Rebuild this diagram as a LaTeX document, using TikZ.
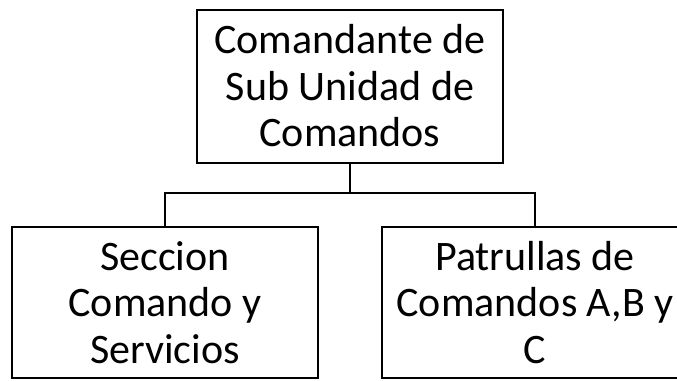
\documentclass[tikz,border=0pt]{standalone}
\usepackage{fontspec}
\setmainfont{Carlito}
\begin{document}
\begin{tikzpicture}[x=1pt,y=-1pt,
  orgbox/.style={draw=black, line width=2pt, minimum width=306pt, align=center,
    font=\fontsize{42}{46.5}\selectfont, inner sep=0pt},
  link/.style={draw=black, line width=2pt}]
\useasboundingbox (0,0) rectangle (677,380);
\clip (0,0) rectangle (677,380);
\node[orgbox, minimum height=153pt] (top) at (350,86) {Comandante de\\Sub Unidad de\\Comandos};
\node[orgbox, minimum height=151pt] (left) at (165,302.5) {Seccion\\Comando y\\Servicios};
\node[orgbox, minimum height=151pt] (right) at (535,302.5) {Patrullas de\\Comandos A,B y\\C};
\coordinate (j) at (350,193);
\draw[link] (top.south) -- (j);
\draw[link] (left.north) |- (j) -| (right.north);
\end{tikzpicture}
\end{document}
